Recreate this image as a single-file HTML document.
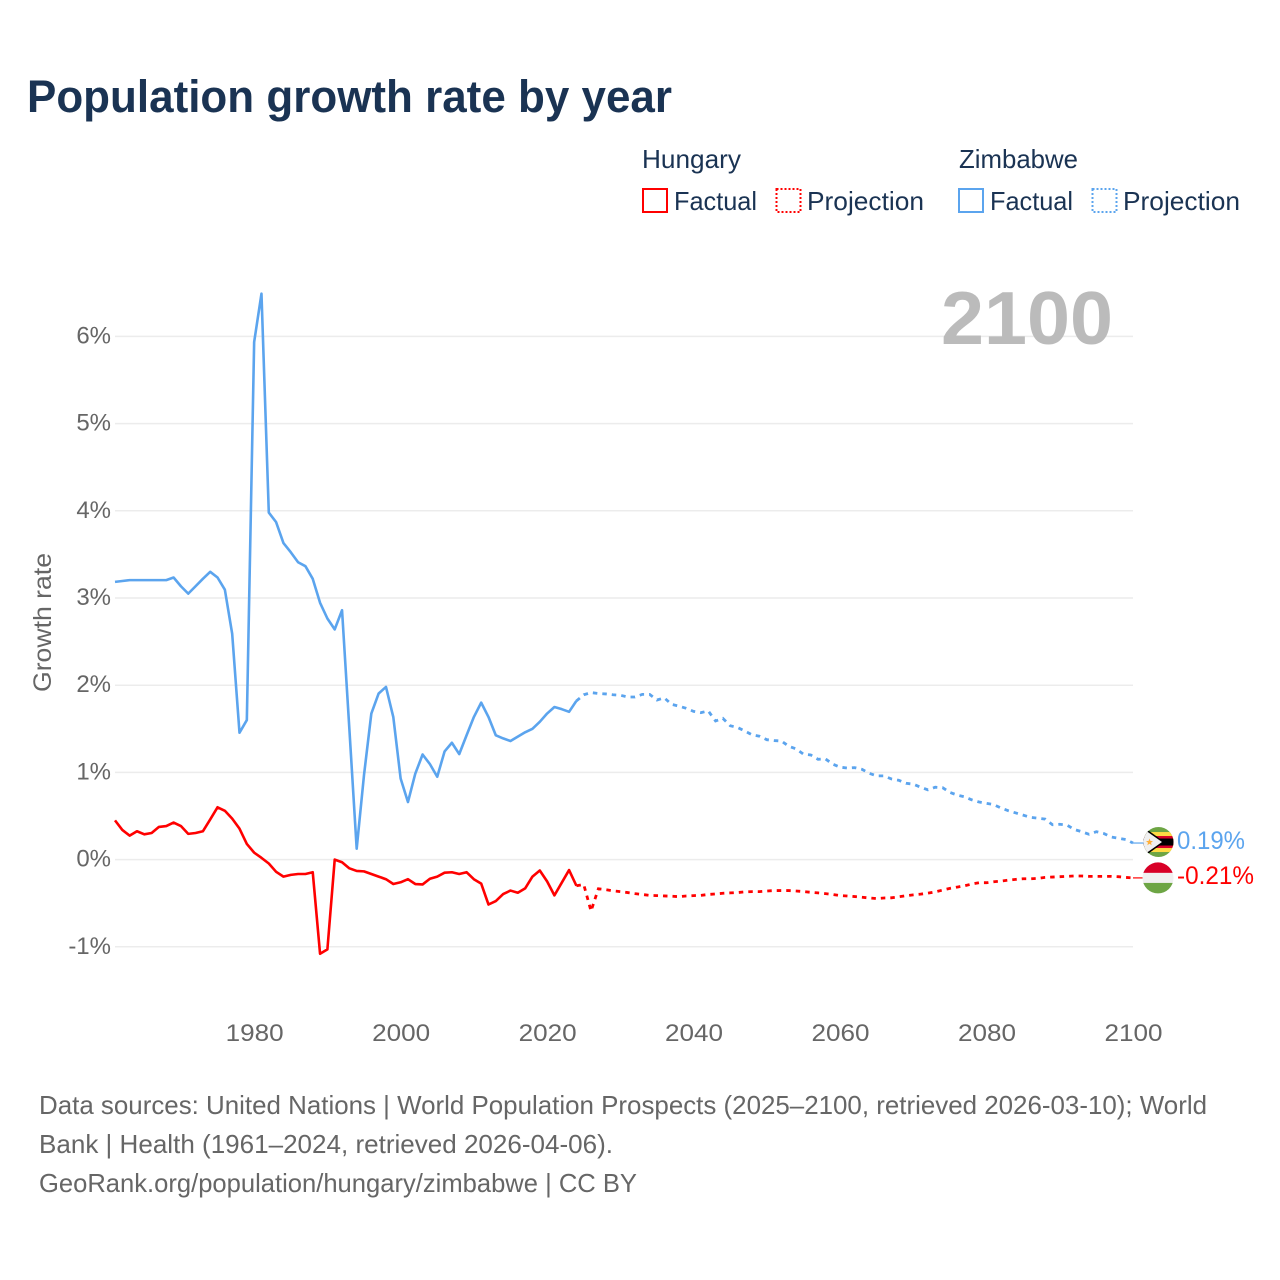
<!DOCTYPE html>
<html lang="en">
<head>
<meta charset="utf-8">
<title>Population growth rate by year</title>
<style>
html,body{margin:0;padding:0;background:#fff;width:1280px;height:1280px;overflow:hidden}
svg{display:block}
text{font-family:"Liberation Sans",sans-serif}
</style>
</head>
<body>
<svg id="chart" width="1280" height="1280" viewBox="0 0 1280 1280" xmlns="http://www.w3.org/2000/svg">
  <defs>
    <clipPath id="flag-clip-zw"><circle cx="0" cy="0" r="15"/></clipPath>
    <clipPath id="flag-clip-hu"><circle cx="0" cy="0" r="15.5"/></clipPath>
  </defs>
  <text x="27" y="112" font-size="45" font-weight="700" fill="#1a3353" textLength="645" lengthAdjust="spacingAndGlyphs">Population growth rate by year</text>

  <g font-size="26" fill="#1a3353">
    <text x="642" y="168" textLength="99" lengthAdjust="spacingAndGlyphs">Hungary</text>
    <rect x="643" y="189" width="24" height="23" fill="none" stroke="#ff0000" stroke-width="2"/>
    <text x="674" y="210" textLength="83" lengthAdjust="spacingAndGlyphs">Factual</text>
    <rect x="776.5" y="189" width="24" height="23" fill="none" stroke="#ff0000" stroke-width="2" stroke-dasharray="2 2"/>
    <text x="807" y="210" textLength="117" lengthAdjust="spacingAndGlyphs">Projection</text>
    <text x="959" y="168" textLength="119" lengthAdjust="spacingAndGlyphs">Zimbabwe</text>
    <rect x="959" y="189" width="24" height="23" fill="none" stroke="#5ba4ee" stroke-width="2"/>
    <text x="990" y="210" textLength="83" lengthAdjust="spacingAndGlyphs">Factual</text>
    <rect x="1092.5" y="189" width="24" height="23" fill="none" stroke="#5ba4ee" stroke-width="2" stroke-dasharray="2 2"/>
    <text x="1123" y="210" textLength="117" lengthAdjust="spacingAndGlyphs">Projection</text>
  </g>

  <g id="grid"></g>
  <g id="y-ticks"></g>
  <g id="x-ticks"></g>

  <text transform="translate(51 622.5) rotate(-90)" text-anchor="middle" font-size="25" fill="#666666" textLength="139" lengthAdjust="spacingAndGlyphs">Growth rate</text>
  <text x="941" y="344" font-size="75" font-weight="700" fill="#bbbbbb" textLength="172" lengthAdjust="spacingAndGlyphs">2100</text>

  <g id="series"></g>

  <g id="flag-zw">
    <g clip-path="url(#flag-clip-zw)">
      <rect x="-15" y="-15" width="30" height="30" fill="#6da544"/>
      <rect x="-15" y="-10" width="30" height="20" fill="#ffda44"/>
      <rect x="-15" y="-6" width="30" height="12" fill="#d80027"/>
      <rect x="-15" y="-3.5" width="30" height="7" fill="#000000"/>
      <polygon points="-15,-15 6,0 -15,15" fill="#000000"/>
      <polygon points="-15,-13 3.5,0 -15,13" fill="#f0f0f0"/>
      <polygon points="-9,-3.5 -8,-1 -5.5,-1 -7.5,0.7 -6.8,3.2 -9,1.7 -11.2,3.2 -10.5,0.7 -12.5,-1 -10,-1" fill="#ffb03a"/>
    </g>
  </g>
  <g id="flag-hu">
    <g clip-path="url(#flag-clip-hu)">
      <rect x="-16" y="-16" width="32" height="11" fill="#d80027"/>
      <rect x="-16" y="-5" width="32" height="10" fill="#f0f0f0"/>
      <rect x="-16" y="5" width="32" height="11" fill="#6da544"/>
    </g>
  </g>

  <text id="value-zw" x="1177" font-size="25" fill="#5ba4ee" textLength="68" lengthAdjust="spacingAndGlyphs"></text>
  <text id="value-hu" x="1177" font-size="25" fill="#ff0000" textLength="77" lengthAdjust="spacingAndGlyphs"></text>

  <g font-size="26" fill="#666666">
    <text x="39" y="1114" textLength="1168" lengthAdjust="spacingAndGlyphs">Data sources: United Nations | World Population Prospects (2025–2100, retrieved 2026-03-10); World</text>
    <text x="39" y="1153" textLength="574" lengthAdjust="spacingAndGlyphs">Bank | Health (1961–2024, retrieved 2026-04-06).</text>
    <text x="39" y="1192" textLength="598" lengthAdjust="spacingAndGlyphs">GeoRank.org/population/hungary/zimbabwe | CC BY</text>
  </g>
</svg>

<script>
const firstFactualYear = 1961;
const firstProjectionYear = 2025;
const xTickLabels = [1980, 2000, 2020, 2040, 2060, 2080, 2100];
const yTickLabels = [-1, 0, 1, 2, 3, 4, 5, 6];

const hungaryFactual = [
  0.45,0.34,0.275,0.325,0.29,0.305,0.375,0.385,0.425,0.385,
  0.295,0.305,0.325,0.46,0.60,0.56,0.47,0.355,0.18,0.08,
  0.02,-0.045,-0.14,-0.195,-0.175,-0.165,-0.165,-0.145,-1.08,-1.03,
  0,-0.03,-0.10,-0.13,-0.135,-0.165,-0.195,-0.225,-0.28,-0.26,
  -0.225,-0.28,-0.285,-0.22,-0.195,-0.15,-0.145,-0.165,-0.145,-0.225,
  -0.275,-0.515,-0.475,-0.395,-0.355,-0.38,-0.33,-0.195,-0.125,-0.25,
  -0.41,-0.265,-0.12,-0.30
];
const hungaryProjection = [
  -0.285,-0.59,-0.335,-0.345,-0.358,-0.367,
  -0.378,-0.39,-0.40,-0.41,-0.413,-0.417,-0.42,-0.425,-0.417,-0.413,
  -0.41,-0.40,-0.394,-0.386,-0.382,-0.378,-0.37,-0.367,-0.367,-0.36,
  -0.355,-0.355,-0.355,-0.36,-0.367,-0.375,-0.382,-0.39,-0.40,-0.413,
  -0.417,-0.424,-0.432,-0.44,-0.447,-0.44,-0.438,-0.427,-0.415,-0.404,
  -0.396,-0.385,-0.37,-0.35,-0.33,-0.315,-0.30,-0.28,-0.265,-0.265,
  -0.254,-0.246,-0.235,-0.227,-0.22,-0.22,-0.215,-0.204,-0.20,-0.196,
  -0.192,-0.188,-0.188,-0.192,-0.192,-0.192,-0.192,-0.196,-0.204,-0.21
];
const zimbabweFactual = [
  3.185,3.195,3.205,3.205,3.205,3.205,3.205,3.205,3.235,3.135,
  3.05,3.135,3.22,3.30,3.235,3.095,2.59,1.455,1.60,5.935,
  6.49,3.98,3.87,3.63,3.525,3.41,3.365,3.22,2.945,2.765,
  2.64,2.86,1.5,0.125,0.97,1.675,1.905,1.98,1.635,0.93,
  0.66,0.985,1.205,1.095,0.95,1.24,1.34,1.21,1.425,1.635,
  1.80,1.635,1.425,1.39,1.36,1.41,1.46,1.50,1.58,1.675,
  1.75,1.725,1.695,1.82
];
const zimbabweProjection = [
  1.89,1.915,1.905,1.90,1.89,1.885,
  1.865,1.865,1.895,1.895,1.83,1.855,1.78,1.76,1.735,1.70,
  1.685,1.705,1.59,1.62,1.535,1.515,1.475,1.43,1.415,1.375,
  1.365,1.36,1.30,1.27,1.21,1.20,1.15,1.155,1.095,1.06,
  1.05,1.055,1.035,0.99,0.96,0.96,0.925,0.91,0.875,0.865,
  0.83,0.80,0.83,0.825,0.77,0.74,0.72,0.685,0.66,0.645,
  0.63,0.59,0.56,0.535,0.51,0.485,0.475,0.465,0.40,0.405,
  0.395,0.345,0.32,0.29,0.32,0.30,0.26,0.245,0.23,0.19
];

const SVG_NS = 'http://www.w3.org/2000/svg';
const RED = '#ff0000';
const BLUE = '#5ba4ee';
const plotLeft = 115;
const plotRight = 1133;
const lastYear = 2100;

function xScale(year) {
  return plotLeft + (year - firstFactualYear) * (plotRight - plotLeft) / (lastYear - firstFactualYear);
}
function yScale(value) {
  return 859.6 - value * 87.2;
}
function make(tag, attrs, parent) {
  const el = document.createElementNS(SVG_NS, tag);
  Object.keys(attrs).forEach(function (k) { el.setAttribute(k, attrs[k]); });
  parent.appendChild(el);
  return el;
}
function pointsFrom(values, startYear) {
  return values.map(function (v, i) {
    return xScale(startYear + i).toFixed(2) + ',' + yScale(v).toFixed(2);
  }).join(' ');
}

const gridGroup = document.getElementById('grid');
const yTickGroup = document.getElementById('y-ticks');
yTickLabels.forEach(function (tick) {
  const line = make('line', { x1: plotLeft, x2: plotRight, y1: yScale(tick), y2: yScale(tick), stroke: '#ececec', 'stroke-width': 1.5 }, gridGroup);
  
  
  const label = make('text', { x: 111, y: yScale(tick) + 7, 'text-anchor': 'end', 'font-size': 24, fill: '#666666' }, yTickGroup);
  
  
  label.textContent = tick + '%';
});

const xTickGroup = document.getElementById('x-ticks');
xTickLabels.forEach(function (tick) {
  const label = make('text', { x: xScale(tick) + 0.5, y: 1041, 'text-anchor': 'middle', 'font-size': 24, fill: '#666666', textLength: 58, lengthAdjust: 'spacingAndGlyphs' }, xTickGroup);
  
  
  label.textContent = tick;
});

const seriesGroup = document.getElementById('series');

const hungaryFactualLine = make('polyline', { points: pointsFrom(hungaryFactual, firstFactualYear), fill: 'none', stroke: RED, 'stroke-width': 2.6, 'stroke-linejoin': 'round' }, seriesGroup);



const zimbabweFactualLine = make('polyline', { points: pointsFrom(zimbabweFactual, firstFactualYear), fill: 'none', stroke: BLUE, 'stroke-width': 2.6, 'stroke-linejoin': 'round' }, seriesGroup);



const hungaryProjectionLine = make('polyline', { points: pointsFrom(hungaryFactual.slice(-1).concat(hungaryProjection), firstProjectionYear - 1), fill: 'none', stroke: RED, 'stroke-width': 2.8, 'stroke-dasharray': '4.5 5' }, seriesGroup);



const zimbabweProjectionLine = make('polyline', { points: pointsFrom(zimbabweFactual.slice(-1).concat(zimbabweProjection), firstProjectionYear - 1), fill: 'none', stroke: BLUE, 'stroke-width': 2.8, 'stroke-dasharray': '4.5 5' }, seriesGroup);



const zwEnd = zimbabweProjection[zimbabweProjection.length - 1];
const huEnd = hungaryProjection[hungaryProjection.length - 1];

const zwLeader = make('line', { x1: plotRight, x2: 1146, y1: yScale(zwEnd), y2: yScale(zwEnd), stroke: BLUE, 'stroke-width': 1.2 }, seriesGroup);



const huLeader = make('line', { x1: plotRight, x2: 1146, y1: yScale(huEnd), y2: yScale(huEnd), stroke: RED, 'stroke-width': 1.2 }, seriesGroup);



document.getElementById('flag-zw').setAttribute('transform', 'translate(1158.5 ' + (yScale(zwEnd) - 1) + ')');
document.getElementById('flag-hu').setAttribute('transform', 'translate(1158 ' + yScale(huEnd) + ')');

const zwValue = document.getElementById('value-zw');
zwValue.setAttribute('y', yScale(zwEnd) + 6);
zwValue.textContent = zwEnd.toFixed(2) + '%';
const huValue = document.getElementById('value-hu');
huValue.setAttribute('y', yScale(huEnd) + 6);
huValue.textContent = huEnd.toFixed(2) + '%';
</script>
</body>
</html>
